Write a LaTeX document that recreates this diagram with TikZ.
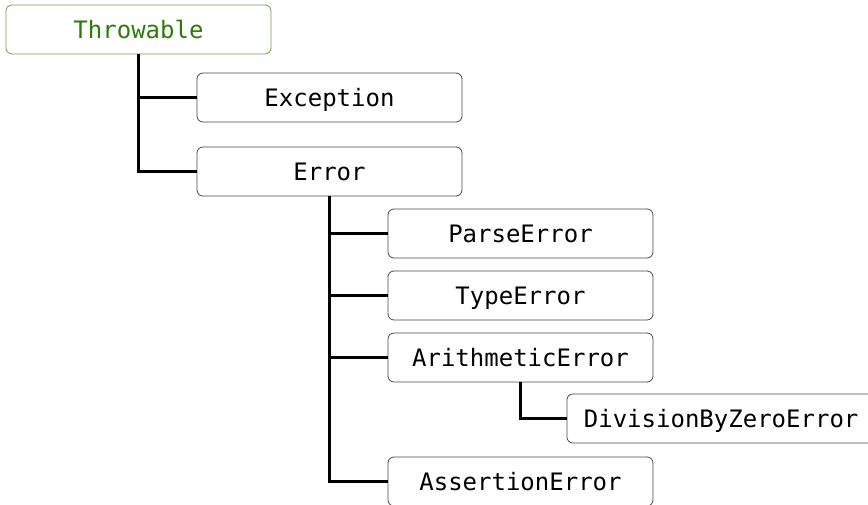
\documentclass[tikz,border=0pt]{standalone}
\usepackage{fontspec}
\setmonofont{DejaVu Sans Mono}
\definecolor{rootgreen}{HTML}{2E7A0C}
\definecolor{rootedge}{HTML}{6BA446}
\definecolor{boxedge}{HTML}{4A4A4A}
\tikzset{
  cls/.style={draw=boxedge, line width=0.8pt, rounded corners=6pt,
    minimum width=265pt, minimum height=49pt, inner xsep=17pt,
    text height=17.5pt, text depth=0pt,
    font=\ttfamily\fontsize{24pt}{28pt}\selectfont},
  rootcls/.style={cls, draw=rootedge, text=rootgreen},
  link/.style={line width=2.4pt}
}
\begin{document}
\begin{tikzpicture}[x=1pt,y=-1pt]
\useasboundingbox (0,0) rectangle (868,505);
\clip (0,0) rectangle (868,505);
\node[rootcls] (thr) at (138.5,29.5) {Throwable};
\node[cls] (exc) at (329.5,97.5) {Exception};
\node[cls] (err) at (329.5,171.5) {Error};
\node[cls] (par) at (520.5,233.5) {ParseError};
\node[cls] (typ) at (520.5,295.5) {TypeError};
\node[cls] (ari) at (520.5,357.5) {ArithmeticError};
\node[cls, anchor=west] (div) at (566.5,418.5) {DivisionByZeroError};
\node[cls] (ass) at (520.5,481.5) {AssertionError};
\draw[link] (thr.south) |- (exc.west);
\draw[link] (thr.south) |- (err.west);
\draw[link] (err.south) |- (par.west);
\draw[link] (err.south) |- (typ.west);
\draw[link] (err.south) |- (ari.west);
\draw[link] (err.south) |- (ass.west);
\draw[link] (ari.south) |- (div.west);
\end{tikzpicture}
\end{document}
